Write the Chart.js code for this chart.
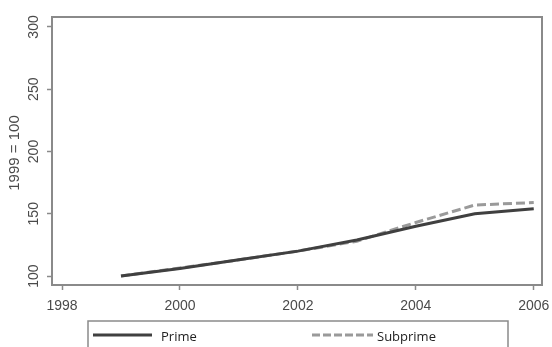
<!DOCTYPE html>
<html>
<head>
<meta charset="utf-8">
<script src="https://cdn.jsdelivr.net/npm/chart.js@4/dist/chart.umd.min.js"></script>
<style>
  html, body { margin: 0; padding: 0; background: #fff; }
  #wrap { width: 552px; height: 347px; }
</style>
</head>
<body>
<div id="wrap"><canvas id="myChart" width="552" height="347"></canvas></div>
<script>
"use strict";

const years = [1999, 2000, 2001, 2002, 2003, 2004, 2005, 2006];
const prime = [100, 106, 113, 120, 129, 140, 150, 154];
const subprime = [100, 106.5, 113, 120, 128, 143, 157, 159];
const xTicks = [1998, 2000, 2002, 2004, 2006];
const yTicks = [100, 150, 200, 250, 300];

const AXIS_GRAY = '#8a8a8a';
const TEXT_GRAY = '#4a4a4a';
const TICK_FONT = '"Liberation Sans", Arial, sans-serif';

const toPoints = (vals) => vals.map((v, i) => ({ x: years[i], y: v }));

// frame, rotated y labels and the boxed legend underneath
const stataLook = {
    id: 'stataLook',
    afterDraw(chart) {
        const ctx = chart.ctx;
        const area = chart.chartArea;
        const yScale = chart.scales.y;
        ctx.save();

        ctx.strokeStyle = AXIS_GRAY;
        ctx.lineWidth = 2;
        ctx.strokeRect(area.left, area.top, area.right - area.left, area.bottom - area.top);

        ctx.fillStyle = TEXT_GRAY;
        ctx.font = `14px ${TICK_FONT}`;
        ctx.textAlign = 'center';
        ctx.textBaseline = 'middle';
        yTicks.forEach(t => {
            const py = yScale.getPixelForValue(t);
            ctx.save();
            ctx.translate(34, py);
            ctx.rotate(-Math.PI / 2);
            ctx.fillText(String(t), 0, 0);
            ctx.restore();
        });

        ctx.font = `15px ${TICK_FONT}`;
        ctx.save();
        ctx.translate(15, (area.top + area.bottom) / 2 + 2);
        ctx.rotate(-Math.PI / 2);
        ctx.fillText('1999 = 100', 0, 0);
        ctx.restore();

        // legend box
        ctx.strokeStyle = AXIS_GRAY;
        ctx.lineWidth = 1.5;
        ctx.strokeRect(88, 321, 420, 40);

        ctx.lineWidth = 3;
        ctx.strokeStyle = '#404040';
        ctx.beginPath();
        ctx.moveTo(93, 335);
        ctx.lineTo(152, 335);
        ctx.stroke();

        ctx.strokeStyle = '#9a9a9a';
        ctx.setLineDash([8, 3]);
        ctx.beginPath();
        ctx.moveTo(312, 335);
        ctx.lineTo(373, 335);
        ctx.stroke();
        ctx.setLineDash([]);

        ctx.fillStyle = '#222';
        ctx.font = '13px "Open Sans", sans-serif';
        ctx.textAlign = 'left';
        ctx.fillText('Prime', 161, 337);
        ctx.fillText('Subprime', 377, 337);

        ctx.restore();
    }
};

new Chart(document.getElementById('myChart'), {
    type: 'line',
    data: {
        datasets: [
            {
                label: 'Prime',
                data: toPoints(prime),
                borderColor: '#404040',
                borderWidth: 3,
                pointRadius: 0,
                tension: 0
            },
            {
                label: 'Subprime',
                data: toPoints(subprime),
                borderColor: '#9a9a9a',
                borderWidth: 3,
                borderDash: [9, 4],
                pointRadius: 0,
                tension: 0
            }
        ]
    },
    options: {
        responsive: false,
        animation: false,
        layout: { padding: { left: 0, right: 10, top: 17, bottom: 0 } },
        plugins: {
            legend: { display: false },
            tooltip: { enabled: false }
        },
        scales: {
            x: {
                type: 'linear',
                min: 1997.83,
                max: 2006.14,
                afterBuildTicks(scale) {
                    scale.ticks = xTicks.map(v => ({ value: v }));
                },
                afterFit(scale) {
                    scale.height = 62;
                    scale.paddingLeft = 0;
                    scale.paddingRight = 0;
                },
                ticks: {
                    color: TEXT_GRAY,
                    font: { family: TICK_FONT, size: 14 },
                    padding: 8,
                    maxRotation: 0,
                    callback: v => String(v)
                },
                grid: {
                    drawOnChartArea: false,
                    drawTicks: true,
                    tickLength: 5,
                    tickColor: AXIS_GRAY,
                    tickWidth: 1.5
                },
                border: { display: false }
            },
            y: {
                min: 92.8,
                max: 308,
                afterBuildTicks(scale) {
                    scale.ticks = yTicks.map(v => ({ value: v }));
                },
                afterFit(scale) {
                    scale.width = 52;
                    scale.paddingTop = 0;
                    scale.paddingBottom = 0;
                },
                ticks: {
                    color: 'rgba(0,0,0,0)',
                    font: { size: 1 },
                    padding: 0
                },
                grid: {
                    drawOnChartArea: false,
                    drawTicks: true,
                    tickLength: 5,
                    tickColor: AXIS_GRAY,
                    tickWidth: 1.5
                },
                border: { display: false }
            }
        }
    },
    plugins: [stataLook]
});
</script>
</body>
</html>
